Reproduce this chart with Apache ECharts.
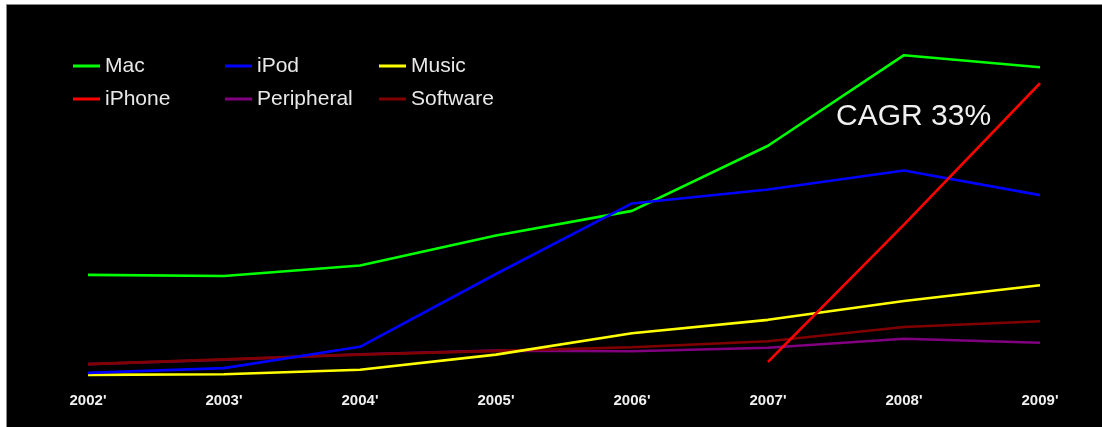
<!DOCTYPE html>
<html>
<head>
<meta charset="utf-8">
<script src="https://cdn.jsdelivr.net/npm/echarts@6/dist/echarts.min.js"></script>
<style>
html,body{margin:0;padding:0;background:#fff;}
#chart{width:1102px;height:427px;}
</style>
</head>
<body>
<div id="chart"></div>
<script>
// Data (revenue, $B)
var years = ["2002'", "2003'", "2004'", "2005'", "2006'", "2007'", "2008'", "2009'"];
var mac        = [4.50, 4.45, 4.92, 6.25, 7.35, 10.25, 14.28, 13.74];
var ipod       = [0.14, 0.35, 1.30, 4.54, 7.68, 8.30, 9.15, 8.05];
var music      = [0.05, 0.08, 0.28, 0.95, 1.90, 2.50, 3.34, 4.04];
var iphone     = [null, null, null, null, null, 0.63, 6.74, 13.03];
var peripheral = [0.53, 0.72, 0.97, 1.13, 1.10, 1.26, 1.66, 1.48];
var software   = [0.53, 0.74, 0.95, 1.12, 1.28, 1.55, 2.18, 2.44];
var cagrLabel = 'CAGR 33%';

var FONT = '"Liberation Sans", Arial, sans-serif';
var chart = echarts.init(document.getElementById('chart'), null, {renderer: 'canvas'});

function line(name, data, color, z) {
  return {
    name: name, type: 'line', data: data, showSymbol: false, symbol: 'none',
    lineStyle: {color: color, width: 2.6}, itemStyle: {color: color},
    z: z, connectNulls: false, silent: true
  };
}

var legendBase = {
  orient: 'vertical', top: 55, padding: 0, itemWidth: 27, itemHeight: 3, itemGap: 11,
  icon: 'rect', selectedMode: false,
  textStyle: {color: '#e8e8e8', fontSize: 21, fontFamily: FONT, lineHeight: 22}
};

chart.setOption({
  animation: false,
  backgroundColor: '#ffffff',
  graphic: [
    {type: 'rect', z: -10, shape: {x: 6.5, y: 4.5, width: 1100, height: 430},
     style: {fill: '#000', stroke: '#888', lineWidth: 1}},
    {type: 'text', z: 100, left: 836, top: 102,
     style: {text: cagrLabel, fill: '#f0f0f0', font: '30px ' + FONT}}
  ],
  legend: [
    Object.assign({}, legendBase, {left: 73, data: ['Mac', 'iPhone']}),
    Object.assign({}, legendBase, {left: 225, data: ['iPod', 'Peripheral']}),
    Object.assign({}, legendBase, {left: 379, data: ['Music', 'Software']})
  ],
  grid: {left: 88, right: 62, top: 39, bottom: 51, containLabel: false},
  xAxis: {
    type: 'category', data: years, boundaryGap: false,
    axisLine: {show: false}, axisTick: {show: false}, splitLine: {show: false},
    axisLabel: {color: '#f0f0f0', fontSize: 15, fontWeight: 'bold', fontFamily: FONT, margin: 17}
  },
  yAxis: {
    type: 'value', min: 0, max: 15, show: false, splitLine: {show: false}
  },
  series: [
    line('Peripheral', peripheral, '#800080', 2),
    line('Software', software, '#800000', 3),
    line('Music', music, '#ffff00', 4),
    line('Mac', mac, '#00ff00', 5),
    line('iPod', ipod, '#0000ff', 6),
    line('iPhone', iphone, '#ff0000', 7)
  ]
});
</script>
</body>
</html>
